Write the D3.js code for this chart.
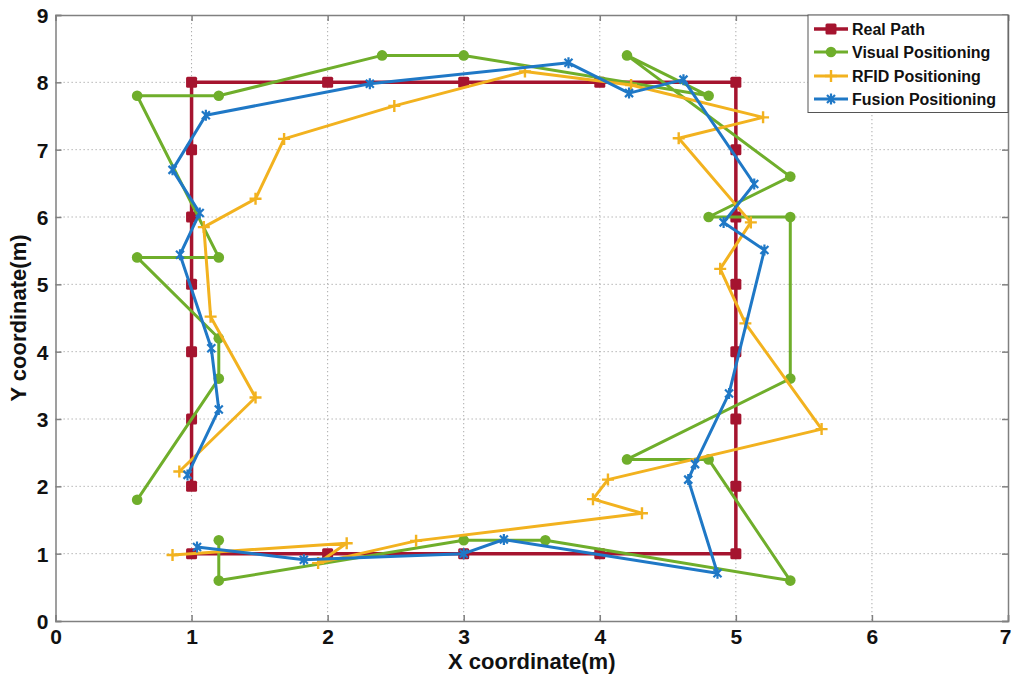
<!DOCTYPE html>
<html><head><meta charset="utf-8">
<script src="https://cdn.jsdelivr.net/npm/d3@7/dist/d3.min.js"></script>
<style>body{margin:0;background:#fff}svg{display:block}text{font-family:"Liberation Sans",Arial,sans-serif;font-weight:bold}</style>
</head><body>
<script>
const xTicks = [0,1,2,3,4,5,6,7];
const yTicks = [0,1,2,3,4,5,6,7,8,9];
const seriesNames = ["Real Path","Visual Positioning","RFID Positioning","Fusion Positioning"];
const realX = [1,1,1,1,1,1,1,2,3,4,5,5,5,5,5,5,5,5,4,3,2,1];
const realY = [2,3,4,5,6,7,8,8,8,8,8,7,6,5,4,3,2,1,1,1,1,1];
const visualX = [0.6,1.2,1.2,0.6,1.2,0.6,1.2,2.4,3.0,4.8,4.2,5.4,4.8,5.4,5.4,4.2,4.8,5.4,3.6,3.0,1.2,1.2];
const visualY = [1.8,3.6,4.2,5.4,5.4,7.8,7.8,8.4,8.4,7.8,8.4,6.6,6.0,6.0,3.6,2.4,2.4,0.6,1.2,1.2,0.6,1.2];
const rfidX = [0.91,1.47,1.14,1.09,1.47,1.68,2.49,3.45,4.23,5.2,4.58,5.11,4.885,5.07,5.63,4.06,3.95,4.31,2.65,1.93,2.14,0.86];
const rfidY = [2.22,3.32,4.52,5.85,6.27,7.16,7.65,8.16,7.96,7.48,7.17,5.92,5.23,4.42,2.85,2.10,1.81,1.60,1.19,0.86,1.155,0.98];
const fusionX = [0.97,1.20,1.145,0.915,1.06,0.86,1.105,2.31,3.77,4.215,4.615,5.135,4.91,5.21,4.95,4.70,4.65,4.865,3.295,3.0,1.825,1.04];
const fusionY = [2.17,3.14,4.05,5.44,6.06,6.70,7.51,7.98,8.29,7.84,8.04,6.49,5.92,5.51,3.38,2.33,2.10,0.71,1.21,1.0,0.91,1.10];

const W = 1012, H = 675;
const L = 55.5, R = 1008, T = 15, B = 621;
const x = d3.scaleLinear().domain([0,7]).range([L,R]);
const y = d3.scaleLinear().domain([0,9]).range([B,T]);

const svg = d3.select("body").append("svg").attr("width",W).attr("height",H);

// grid
const grid = svg.append("g").attr("stroke","#aaaaaa").attr("stroke-width",1).attr("stroke-dasharray","1.3,2.7");
grid.selectAll(".gx").data(xTicks.slice(1,-1)).join("line")
  .attr("x1",d=>x(d)).attr("x2",d=>x(d)).attr("y1",T).attr("y2",B);
grid.selectAll(".gy").data(yTicks.slice(1,-1)).join("line")
  .attr("y1",d=>y(d)).attr("y2",d=>y(d)).attr("x1",L).attr("x2",R);

// axes
const fs = 21;
const ax = svg.append("g").attr("transform",`translate(0,${B})`)
  .call(d3.axisBottom(x).tickValues(xTicks).tickSize(-6).tickPadding(8).tickFormat(d3.format("d")));
const ay = svg.append("g").attr("transform",`translate(${L},0)`)
  .call(d3.axisLeft(y).tickValues(yTicks).tickSize(-6).tickPadding(7).tickFormat(d3.format("d")));
const axT = svg.append("g").attr("transform",`translate(0,${T})`)
  .call(d3.axisTop(x).tickValues(xTicks).tickSize(-6).tickFormat(""));
const ayR = svg.append("g").attr("transform",`translate(${R},0)`)
  .call(d3.axisRight(y).tickValues(yTicks).tickSize(-6).tickFormat(""));
[ax,ay,axT,ayR].forEach(g=>{
  g.select(".domain").attr("stroke","#808080").attr("stroke-width",1.5);
  g.selectAll(".tick line").attr("stroke","#808080").attr("stroke-width",1.5);
  g.selectAll(".tick text").attr("font-size",fs).attr("fill","#111")
   .style("font-family","'Liberation Sans',Arial,sans-serif").style("font-weight","bold");
});
ax.selectAll(".tick text").attr("dy","0.71em").filter(d=>d===7).attr("text-anchor","end").attr("dx","3");
ay.selectAll(".tick text").attr("dy","0.36em");

// axis titles
svg.append("text").attr("x",(L+R)/2).attr("y",669).attr("text-anchor","middle")
  .attr("font-size",22).attr("fill","#111").text("X coordinate(m)");
svg.append("text").attr("transform",`translate(26,${(T+B)/2}) rotate(-90)`).attr("text-anchor","middle")
  .attr("font-size",22).attr("fill","#111").text("Y coordinate(m)");

// series
const series = [
  {name:seriesNames[0], xs:realX, ys:realY, color:"#a5142f", w:3.5, m:"square"},
  {name:seriesNames[1], xs:visualX, ys:visualY, color:"#6fae2b", w:3, m:"circle"},
  {name:seriesNames[2], xs:rfidX, ys:rfidY, color:"#f2b21f", w:3, m:"plus"},
  {name:seriesNames[3], xs:fusionX, ys:fusionY, color:"#1f78c6", w:3, m:"star"}
];

function marker(g, type, color, cx, cy){
  if(type==="square"){
    g.append("rect").attr("x",cx-5.5).attr("y",cy-5.5).attr("width",11).attr("height",11).attr("rx",1.5).attr("fill",color);
  } else if(type==="circle"){
    g.append("circle").attr("cx",cx).attr("cy",cy).attr("r",5.3).attr("fill",color);
  } else if(type==="plus"){
    const s=6;
    g.append("path").attr("d",`M${cx-s},${cy}H${cx+s}M${cx},${cy-s}V${cy+s}`).attr("stroke",color).attr("stroke-width",2.4).attr("fill","none");
  } else {
    const s=5.5, d=4;
    g.append("path").attr("d",`M${cx-d},${cy-d}L${cx+d},${cy+d}M${cx-d},${cy+d}L${cx+d},${cy-d}M${cx},${cy-s}V${cy+s}`)
      .attr("stroke",color).attr("stroke-width",2.2).attr("fill","none");
  }
}

const line = d3.line().x(d=>x(d[0])).y(d=>y(d[1]));
series.forEach(s=>{
  const pts = s.xs.map((v,i)=>[v,s.ys[i]]);
  const g = svg.append("g");
  g.append("path").datum(pts).attr("d",line).attr("fill","none").attr("stroke",s.color)
    .attr("stroke-width",s.w).attr("stroke-linejoin","round");
  pts.forEach(p=>marker(g,s.m,s.color,x(p[0]),y(p[1])));
});

// legend
const lg = svg.append("g");
lg.append("rect").attr("x",808).attr("y",T).attr("width",R-808).attr("height",97.5)
  .attr("fill","#fff").attr("stroke","#555").attr("stroke-width",1);
const rows = [29,52,76,99];
series.forEach((s,i)=>{
  const cy = rows[i];
  lg.append("line").attr("x1",814).attr("x2",848).attr("y1",cy).attr("y2",cy).attr("stroke",s.color).attr("stroke-width",s.w);
  marker(lg,s.m,s.color,831,cy);
  lg.append("text").attr("x",852).attr("y",cy).attr("dy","0.36em").attr("font-size",16).attr("fill","#111").text(s.name);
});
</script>
</body></html>
